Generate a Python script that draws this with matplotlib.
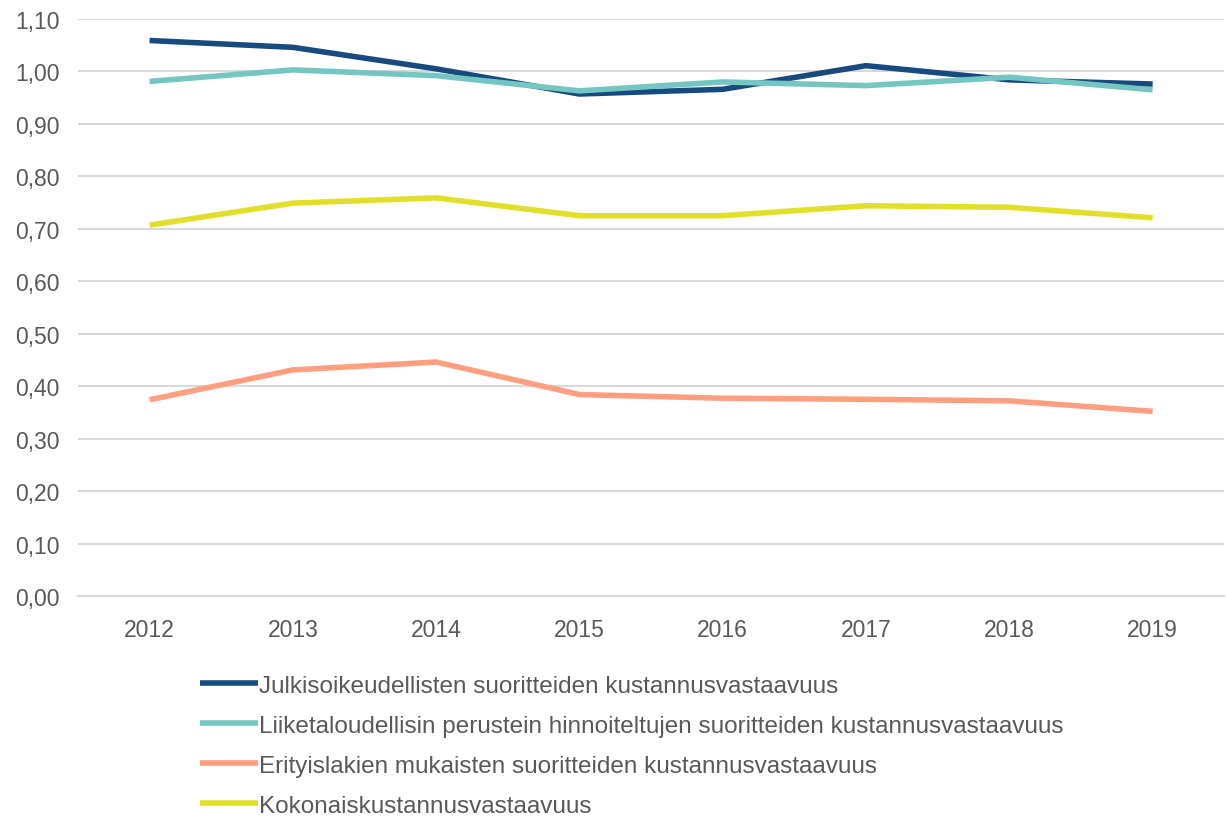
import matplotlib.pyplot as plt
from matplotlib.ticker import FuncFormatter

plt.rcParams['font.family'] = ['Liberation Sans', 'DejaVu Sans']

years = ['2012', '2013', '2014', '2015', '2016', '2017', '2018', '2019']
julkisoikeudelliset = [1.059, 1.046, 1.005, 0.957, 0.966, 1.011, 0.984, 0.976]
liiketaloudelliset = [0.981, 1.003, 0.992, 0.963, 0.980, 0.973, 0.989, 0.965]
erityislait = [0.374, 0.431, 0.446, 0.384, 0.377, 0.375, 0.372, 0.352]
kokonais = [0.707, 0.749, 0.759, 0.725, 0.725, 0.744, 0.741, 0.721]

labels = [
    'Julkisoikeudellisten suoritteiden kustannusvastaavuus',
    'Liiketaloudellisin perustein hinnoiteltujen suoritteiden kustannusvastaavuus',
    'Erityislakien mukaisten suoritteiden kustannusvastaavuus',
    'Kokonaiskustannusvastaavuus',
]
colors = ['#174a7e', '#74c6c2', '#ff9f80', '#e2df2a']
series = [julkisoikeudelliset, liiketaloudelliset, erityislait, kokonais]

fig = plt.figure(figsize=(12.26, 8.2), dpi=100)
ax = fig.add_axes([0.0636, 0.272, 0.935, 0.7036])

x = range(len(years))
for vals, col, lab in zip(series, colors, labels):
    ax.plot(x, vals, color=col, lw=4, label=lab, solid_capstyle='butt')

ax.set_xlim(-0.5, len(years) - 0.5)
ax.set_ylim(0, 1.1)
ax.set_yticks([i / 10 for i in range(12)])
ax.yaxis.set_major_formatter(FuncFormatter(lambda v, p: f'{v:.2f}'.replace('.', ',')))
ax.set_xticks(list(x))
ax.set_xticklabels(years)

ax.grid(axis='y', color='#d9d9d9', lw=1.5)
ax.set_axisbelow(True)
for s in ['top', 'right', 'left']:
    ax.spines[s].set_visible(False)
ax.spines['bottom'].set_color('#d9d9d9')
ax.spines['bottom'].set_linewidth(1.5)
ax.tick_params(length=0, labelsize=16.5, colors='#595959')
ax.tick_params(axis='x', pad=16)
ax.tick_params(axis='y', pad=13)

fig.legend(loc='upper left', bbox_to_anchor=(0.163, 0.176), frameon=False,
           fontsize=17.5, labelcolor='#595959', handlelength=2.4,
           handletextpad=0.05, labelspacing=0.74, borderaxespad=0, borderpad=0)

plt.savefig('out.png', dpi=100)
